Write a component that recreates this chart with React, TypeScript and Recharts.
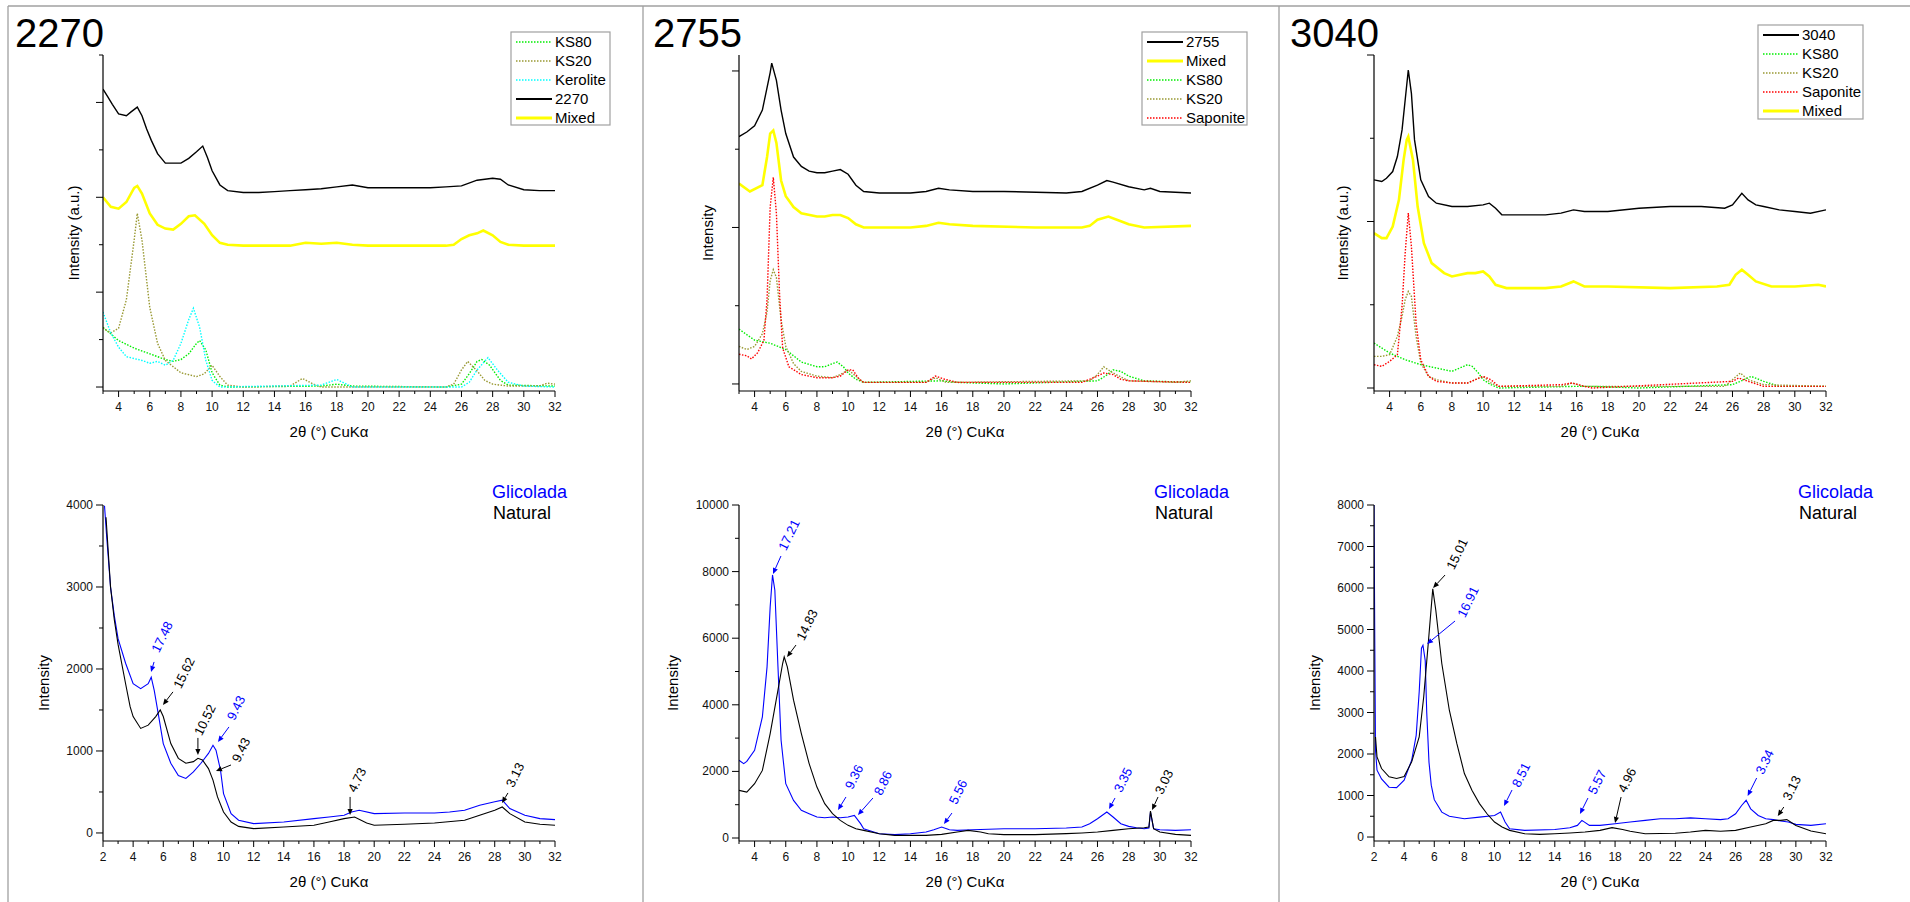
import React from 'react'
import { LineChart, Line, XAxis, YAxis, ReferenceDot } from 'recharts'

type Pt = [number, number]

// ---- top row: stacked patterns, arbitrary units ----
const tl2270: Pt[] = [[3,3.14],[3.3,3.06],[3.6,2.98],[4,2.88],[4.5,2.86],[4.8,2.9],[5.2,2.95],[5.5,2.86],[5.8,2.72],[6.1,2.6],[6.5,2.46],[7,2.36],[7.5,2.36],[8,2.36],[8.5,2.41],[9,2.48],[9.4,2.54],[9.7,2.42],[10,2.28],[10.5,2.13],[11,2.07],[12,2.05],[13,2.05],[14,2.06],[15,2.07],[16,2.08],[17,2.09],[18,2.11],[19,2.13],[20,2.1],[22,2.1],[24,2.1],[25,2.11],[26,2.12],[27,2.18],[28,2.2],[28.5,2.19],[29,2.13],[30,2.08],[31,2.07],[32,2.07]]
const tlMixed: Pt[] = [[3,2.0],[3.5,1.9],[4,1.88],[4.5,1.95],[5,2.1],[5.2,2.12],[5.5,2.04],[6,1.83],[6.5,1.71],[7,1.67],[7.5,1.66],[8,1.72],[8.5,1.8],[8.9,1.81],[9.5,1.72],[10,1.6],[10.5,1.52],[11,1.5],[12,1.49],[15,1.49],[16,1.52],[17,1.51],[18,1.52],[19,1.5],[20,1.49],[25,1.49],[25.5,1.5],[26,1.56],[26.5,1.6],[27,1.62],[27.4,1.65],[28,1.6],[28.5,1.53],[29,1.5],[30,1.49],[32,1.49]]
const tlKS20: Pt[] = [[3,0.62],[3.5,0.57],[4,0.62],[4.5,0.92],[5,1.55],[5.2,1.83],[5.5,1.55],[6,0.84],[6.5,0.46],[7,0.28],[8,0.15],[9,0.11],[9.5,0.14],[10,0.23],[10.5,0.11],[11,0.02],[12,0],[15,0.01],[15.8,0.09],[16.5,0.03],[17,0],[25,0],[25.5,0.03],[26,0.18],[26.4,0.27],[27,0.17],[27.5,0.07],[28,0.03],[29,0.01],[31,0.01],[31.5,0.04],[32,0.03]]
const tlKS80: Pt[] = [[3,0.63],[4,0.49],[5,0.41],[6,0.35],[7,0.29],[7.5,0.27],[8,0.29],[8.5,0.35],[9,0.46],[9.2,0.49],[9.6,0.39],[10,0.15],[10.5,0.02],[11,0],[17,0.01],[18,0.03],[19,0.01],[25,0],[26,0.03],[26.5,0.14],[27,0.27],[27.3,0.29],[27.8,0.23],[28.5,0.07],[29,0.02],[32,0.01]]
const tlKerolite: Pt[] = [[3,0.79],[3.5,0.57],[4,0.42],[4.5,0.32],[5,0.3],[5.5,0.28],[6,0.25],[6.5,0.27],[7,0.23],[7.5,0.28],[8,0.46],[8.5,0.71],[8.8,0.83],[9.2,0.63],[9.6,0.28],[10,0.07],[10.5,0],[17,0.02],[18,0.08],[18.5,0.04],[19,0],[26,0],[26.5,0.05],[27,0.18],[27.7,0.31],[28.3,0.18],[29,0.05],[30,0.01],[32,0]]

const tm2755: Pt[] = [[3,1.58],[3.5,1.61],[4,1.65],[4.5,1.75],[5,1.99],[5.1,2.05],[5.4,1.94],[5.7,1.75],[6,1.6],[6.5,1.45],[7,1.39],[7.5,1.36],[8,1.35],[8.5,1.35],[9,1.36],[9.5,1.37],[10,1.34],[10.5,1.27],[11,1.23],[12,1.22],[14,1.22],[15,1.23],[15.8,1.25],[16.5,1.24],[18,1.23],[20,1.23],[24,1.22],[25,1.23],[26,1.27],[26.6,1.3],[27,1.29],[28,1.26],[29,1.24],[29.4,1.25],[30,1.23],[32,1.22]]
const tmMixed: Pt[] = [[3,1.28],[3.7,1.23],[4.5,1.27],[4.8,1.45],[5,1.6],[5.2,1.62],[5.4,1.54],[5.7,1.3],[6,1.2],[6.5,1.13],[7,1.09],[8,1.07],[8.5,1.07],[9,1.08],[9.5,1.08],[10,1.06],[10.5,1.02],[11,1.0],[14,1.0],[15,1.01],[15.8,1.03],[16.5,1.02],[18,1.01],[22,1.0],[25,1.0],[25.5,1.01],[26,1.05],[26.7,1.07],[27.5,1.04],[28,1.02],[29,1.0],[32,1.01]]
const tmKS80: Pt[] = [[3,0.35],[4,0.28],[5,0.26],[6,0.22],[7,0.14],[8,0.11],[8.5,0.11],[9,0.13],[9.3,0.14],[9.7,0.11],[10,0.07],[10.5,0.03],[11,0.01],[16,0.02],[17,0.01],[20,0],[26,0.02],[26.5,0.05],[27,0.09],[27.5,0.08],[28,0.05],[29,0.02],[32,0.01]]
const tmKS20: Pt[] = [[3,0.24],[3.5,0.22],[4,0.24],[4.5,0.32],[4.8,0.46],[5,0.66],[5.2,0.73],[5.4,0.68],[5.7,0.41],[6,0.24],[6.5,0.13],[7,0.08],[8,0.05],[9,0.04],[9.5,0.06],[10,0.09],[10.5,0.05],[11,0.01],[15,0.01],[15.6,0.04],[16.3,0.01],[25.5,0.02],[26,0.06],[26.4,0.11],[27,0.07],[28,0.02],[31,0.01],[32,0.02]]
const tmSaponite: Pt[] = [[3,0.19],[3.5,0.18],[3.8,0.16],[4.2,0.2],[4.6,0.28],[4.8,0.54],[5,1.13],[5.2,1.32],[5.4,1.09],[5.6,0.58],[5.8,0.23],[6.2,0.11],[7,0.06],[8,0.04],[9,0.04],[9.5,0.05],[10,0.09],[10.3,0.09],[10.7,0.03],[11,0.01],[15,0.01],[15.6,0.05],[16.2,0.03],[17,0.01],[25,0.01],[26,0.05],[26.4,0.07],[27,0.06],[27.5,0.03],[28,0.02],[32,0.01]]

const tr3040: Pt[] = [[3,1.25],[3.5,1.24],[3.8,1.26],[4.2,1.3],[4.5,1.39],[4.8,1.55],[5,1.73],[5.2,1.91],[5.4,1.77],[5.6,1.49],[6,1.25],[6.5,1.15],[7,1.11],[8,1.09],[9,1.09],[10,1.1],[10.4,1.11],[10.8,1.08],[11.2,1.04],[12,1.04],[14,1.04],[15,1.05],[15.8,1.07],[16.5,1.06],[18,1.06],[20,1.08],[22,1.09],[24,1.09],[25.5,1.08],[26,1.1],[26.6,1.17],[27,1.13],[27.5,1.1],[28,1.09],[29,1.07],[30,1.06],[31,1.05],[32,1.07]]
const trMixed: Pt[] = [[3,0.93],[3.5,0.9],[3.8,0.9],[4.2,0.97],[4.6,1.13],[4.9,1.37],[5.1,1.49],[5.2,1.51],[5.5,1.37],[5.8,1.09],[6.2,0.87],[6.7,0.75],[7.5,0.69],[8,0.67],[9,0.69],[9.5,0.69],[10,0.7],[10.4,0.67],[10.8,0.62],[11.5,0.6],[14,0.6],[15,0.61],[15.8,0.64],[16.5,0.61],[18,0.61],[22,0.6],[25,0.61],[25.8,0.62],[26.2,0.68],[26.6,0.71],[27,0.68],[27.5,0.64],[28.5,0.61],[30,0.61],[31.5,0.62],[32,0.61]]
const trKS80: Pt[] = [[3,0.27],[4,0.21],[5,0.17],[6,0.14],[7,0.12],[8,0.1],[8.5,0.12],[9,0.14],[9.3,0.13],[9.7,0.09],[10,0.05],[10.5,0.02],[11,0],[16,0.01],[17,0.01],[20,0],[26,0.02],[26.5,0.04],[27.2,0.07],[28,0.04],[29,0.01],[32,0.01]]
const trKS20: Pt[] = [[3,0.19],[3.5,0.19],[4,0.2],[4.5,0.31],[4.8,0.43],[5,0.53],[5.2,0.58],[5.4,0.55],[5.7,0.31],[6,0.15],[6.5,0.07],[7,0.05],[8,0.03],[9,0.03],[10,0.07],[10.5,0.03],[11,0.01],[15,0.01],[15.7,0.03],[16.5,0.01],[25.5,0.01],[26,0.05],[26.5,0.09],[27,0.05],[28,0.02],[32,0.01]]
const trSaponite: Pt[] = [[3,0.14],[3.5,0.13],[4,0.16],[4.5,0.2],[4.8,0.49],[5,0.81],[5.2,1.05],[5.4,0.85],[5.7,0.39],[6,0.17],[6.5,0.07],[7,0.04],[8,0.03],[9,0.03],[9.5,0.05],[10,0.07],[10.5,0.05],[11,0.01],[15,0.02],[15.7,0.03],[16.5,0.01],[17,0],[26,0.04],[26.4,0.06],[27,0.04],[28,0.01],[32,0.01]]

// ---- bottom row: counts, glycolated (blue) vs natural (black) ----
const blGlic: Pt[] = [[2.1,3990],[2.25,3600],[2.5,3000],[2.75,2650],[3,2370],[3.5,2070],[4,1820],[4.5,1760],[5,1820],[5.2,1900],[5.4,1740],[5.7,1420],[6,1090],[6.5,850],[7,700],[7.5,665],[8,745],[8.5,850],[9,970],[9.3,1070],[9.5,1010],[9.8,765],[10,480],[10.5,236],[11,155],[12,114],[14,134],[16,175],[17,195],[18,216],[18.5,256],[19,277],[20,236],[22,244],[24,244],[25,256],[26,277],[27,338],[28,380],[28.5,400],[29,297],[30,216],[31,175],[32,163]]
const blNat: Pt[] = [[2.2,3850],[2.5,3000],[2.75,2600],[3,2300],[3.5,1820],[3.8,1540],[4,1420],[4.5,1275],[5,1315],[5.5,1420],[5.8,1500],[6,1420],[6.5,1090],[7,910],[7.5,850],[8,870],[8.3,910],[8.6,890],[9,785],[9.3,645],[9.6,440],[10,256],[10.5,134],[11,80],[12,53],[14,73],[16,94],[17,134],[18,175],[18.7,195],[19.5,122],[20,94],[22,106],[24,122],[26,155],[27,216],[28,277],[28.5,317],[29,236],[30,134],[31,106],[32,94]]

const bmGlic: Pt[] = [[3,2335],[3.3,2235],[3.5,2300],[4,2635],[4.5,3640],[4.8,5140],[5,6940],[5.15,7900],[5.3,7440],[5.5,5140],[5.7,2935],[6,1630],[6.5,1130],[7,830],[7.5,730],[8,630],[8.5,610],[9,630],[9.5,610],[10,630],[10.4,680],[10.8,430],[11,280],[12,130],[13,100],[14,130],[15,180],[15.5,250],[16,330],[16.5,250],[17,230],[18,250],[20,280],[22,280],[24,300],[25,330],[25.5,430],[26,580],[26.6,780],[27,630],[27.5,430],[28,350],[28.5,310],[29,280],[29.3,300],[29.4,780],[29.6,280],[30,250],[31,230],[32,250]]
const bmNat: Pt[] = [[3,1430],[3.5,1380],[4,1630],[4.5,2030],[5,3135],[5.5,4440],[5.8,5240],[5.9,5440],[6.1,5140],[6.5,4140],[7,3135],[7.5,2235],[8,1530],[8.5,1030],[9,730],[9.5,530],[10,380],[10.5,280],[11,230],[12,130],[13,80],[15,80],[16,110],[17,180],[17.7,230],[18.5,180],[19,130],[20,100],[22,100],[24,130],[25,150],[26,180],[27,230],[28,280],[29,310],[29.3,330],[29.4,810],[29.6,280],[30,180],[31,110],[32,80]]

const brGlic: Pt[] = [[2,8000],[2.05,4820],[2.1,2090],[2.2,1610],[2.5,1400],[3,1200],[3.5,1190],[4,1370],[4.5,1850],[4.8,2450],[5,3500],[5.15,4550],[5.25,4620],[5.4,4250],[5.5,3000],[5.65,1800],[5.8,1250],[6,900],[6.5,600],[7,500],[8,440],[9,480],[10,520],[10.4,600],[10.7,360],[11,200],[12,160],[14,180],[15,225],[15.5,280],[15.8,400],[16.3,280],[17,280],[18,320],[19,360],[20,400],[21,440],[22,440],[23,460],[24,440],[25,420],[25.5,440],[26,560],[26.4,760],[26.7,885],[27,680],[27.5,520],[28,440],[28.5,420],[29,385],[29.5,360],[30,305],[31,280],[32,320]]
const brNat: Pt[] = [[2.1,2410],[2.2,1930],[2.5,1650],[3,1450],[3.5,1410],[4,1460],[4.5,1810],[5,2410],[5.3,3380],[5.6,4660],[5.9,5980],[6.1,5470],[6.5,4180],[7,3055],[7.5,2250],[8,1530],[8.5,1125],[9,805],[9.5,560],[10,360],[10.5,240],[11,160],[12,80],[13,64],[14,80],[15,96],[16,120],[17,160],[17.8,225],[18.5,180],[19,140],[20,80],[22,90],[23,120],[24,160],[25,140],[26,160],[27,240],[28,320],[28.5,400],[29,400],[29.4,420],[30,280],[31,145],[32,80]]

// peak labels (d-spacings) anchored at the arrow tip, in data units
const blNotes = [
  { t: '17.48', glic: true, x: 5.19, y: 1964 },
  { t: '15.62', glic: false, x: 5.98, y: 1562 },
  { t: '10.52', glic: false, x: 8.3, y: 952 },
  { t: '9.43', glic: true, x: 9.63, y: 1110 },
  { t: '9.43', glic: false, x: 9.5, y: 756 },
  { t: '4.73', glic: false, x: 18.4, y: 220 },
  { t: '3.13', glic: false, x: 28.48, y: 366 },
]
const bmNotes = [
  { t: '17.21', glic: true, x: 5.18, y: 7928 },
  { t: '14.83', glic: false, x: 6.08, y: 5435 },
  { t: '9.36', glic: true, x: 9.35, y: 841 },
  { t: '8.86', glic: true, x: 10.63, y: 690 },
  { t: '5.56', glic: true, x: 16.15, y: 420 },
  { t: '3.35', glic: true, x: 26.74, y: 871 },
  { t: '3.03', glic: false, x: 29.5, y: 841 },
]
const brNotes = [
  { t: '15.01', glic: false, x: 5.92, y: 6000 },
  { t: '16.91', glic: true, x: 5.52, y: 4651 },
  { t: '8.51', glic: true, x: 10.63, y: 747 },
  { t: '5.57', glic: true, x: 15.67, y: 554 },
  { t: '4.96', glic: false, x: 18.0, y: 337 },
  { t: '3.34', glic: true, x: 26.8, y: 988 },
  { t: '3.13', glic: false, x: 28.8, y: 506 },
]
// pixel offsets of label centre and arrow tail from the tip: [tx, ty, ax, ay]
const blNoteOffsets = [[11,-35,3,-10],[21,-32,10,-13],[7,-35,0,-17],[18,-34,11,-15],[25,-21,15,-6],[7,-35,0,-18],[13,-28,6,-10]]
const bmNoteOffsets = [[16,-39,8,-18],[20,-32,9,-12],[16,-33,8,-13],[25,-32,15,-17],[14,-32,8,-11],[14,-29,6,-11],[12,-28,6,-13]]
const brNoteOffsets = [[24,-34,12,-13],[41,-42,28,-23],[17,-31,8,-16],[17,-32,8,-16],[12,-43,6,-26],[17,-34,9,-18],[14,-28,6,-9]]

// ticks
const ticks3to32 = [3,4,5,6,7,8,9,10,11,12,13,14,15,16,17,18,19,20,21,22,23,24,25,26,27,28,29,30,31,32]
const ticks2to32 = [2,3,4,5,6,7,8,9,10,11,12,13,14,15,16,17,18,19,20,21,22,23,24,25,26,27,28,29,30,31,32]
const tlYTicks = [0,0.5,1,1.5,2,2.5,3,3.5]
const tmYTicks = [0,0.5,1,1.5,2]
const trYTicks = [0,0.5,1,1.5,2]
const blYTicks = [0,500,1000,1500,2000,2500,3000,3500,4000]
const bmYTicks = [0,1000,2000,3000,4000,5000,6000,7000,8000,9000,10000]
const brYTicks = [0,500,1000,1500,2000,2500,3000,3500,4000,4500,5000,5500,6000,6500,7000,7500,8000]

const FONT = '"Liberation Sans", Arial, sans-serif'
const BLUE = '#0000ff'
const STY = {
  black: { stroke: '#000000', w: 1.4, dash: undefined as string | undefined },
  mixed: { stroke: '#ffff00', w: 2.6, dash: undefined as string | undefined },
  ks80: { stroke: '#00ee00', w: 1.4, dash: '1.5 1.5' },
  ks20: { stroke: '#999933', w: 1.4, dash: '1.5 1.5' },
  kerolite: { stroke: '#00ffff', w: 1.4, dash: '1.5 1.5' },
  saponite: { stroke: '#ff0000', w: 1.4, dash: '1.5 1.5' },
  glic: { stroke: BLUE, w: 1.1, dash: undefined as string | undefined },
  nat: { stroke: '#000000', w: 1.1, dash: undefined as string | undefined },
}
type Sty = typeof STY.black

const rows = (pts: Pt[]) => pts.map(([x, y]) => ({ x, y }))

const PLOT_W = 452
const PLOT_H = 336
const COLS = [103, 739, 1374]
const TOP_Y = 55
const BOT_Y = 505

function XTick(props: any) {
  const { x, y, payload } = props
  const v = payload.value
  const major = v % 2 === 0
  return (
    <g>
      <line x1={x} y1={y} x2={x} y2={y + (major ? 6 : 3)} stroke="#000" strokeWidth={1} />
      {major && (
        <text x={x} y={y + 20} textAnchor="middle" fontSize={12} fontFamily={FONT} fill="#111">{v}</text>
      )}
    </g>
  )
}

function makeYTick(majorStep: number, labels: boolean) {
  return (props: any) => {
    const { x, y, payload } = props
    const v = payload.value
    const major = Math.abs(v / majorStep - Math.round(v / majorStep)) < 1e-6
    return (
      <g>
        <line x1={x - (major ? 7 : 4)} y1={y} x2={x} y2={y} stroke="#000" strokeWidth={1} />
        {labels && major && (
          <text x={x - 10} y={y + 4} textAnchor="end" fontSize={12} fontFamily={FONT} fill="#111">{v}</text>
        )}
      </g>
    )
  }
}

function noteShape(label: string, color: string, off: number[]) {
  return (p: any) => {
    const { cx, cy } = p
    const [tx, ty, ax, ay] = off
    const sx = cx + ax, sy = cy + ay
    const len = Math.hypot(cx - sx, cy - sy) || 1
    const ux = (cx - sx) / len, uy = (cy - sy) / len
    const hl = 6, hw = 2.6
    const bx = cx - ux * hl, by = cy - uy * hl
    return (
      <g>
        <line x1={sx} y1={sy} x2={bx} y2={by} stroke={color} strokeWidth={1} />
        <polygon points={`${cx},${cy} ${bx - uy * hw},${by + ux * hw} ${bx + uy * hw},${by - ux * hw}`} fill={color} />
        <text transform={`translate(${cx + tx},${cy + ty}) rotate(-64)`} textAnchor="middle" dominantBaseline="central" fontSize={13} fontFamily={FONT} fill={color}>{label}</text>
      </g>
    )
  }
}

type Series = { key: string; data: Pt[]; sty: Sty }
type Note = { t: string; glic: boolean; x: number; y: number }

function Panel(props: {
  left: number; top: number; xDomain: number[]; xTicks: number[]
  yDomain: number[]; yTicks: number[]; yMajor: number; yLabels: boolean
  series: Series[]; notes?: Note[]; noteOffsets?: number[][]
}) {
  const { left, top, xDomain, xTicks, yDomain, yTicks, yMajor, yLabels, series, notes, noteOffsets } = props
  return (
    <div style={{ position: 'absolute', left: left - 60, top: top - 10 }}>
      <LineChart width={PLOT_W + 70} height={PLOT_H + 60} margin={{ top: 10, right: 10, bottom: 0, left: 0 }}>
        <XAxis type="number" dataKey="x" domain={xDomain} ticks={xTicks} interval={0} allowDataOverflow
          height={50} tickLine={false} tickSize={0} tickMargin={0} tick={(p: any) => <XTick {...p} />}
          axisLine={{ stroke: '#000', strokeWidth: 1.2 }} />
        <YAxis type="number" dataKey="y" domain={yDomain} ticks={yTicks} interval={0} allowDataOverflow
          width={60} tickLine={false} tickSize={0} tickMargin={0} tick={makeYTick(yMajor, yLabels)}
          axisLine={{ stroke: '#000', strokeWidth: 1.2 }} />
        {series.map((s) => (
          <Line key={s.key} data={rows(s.data)} dataKey="y" type="linear" dot={false} activeDot={false}
            stroke={s.sty.stroke} strokeWidth={s.sty.w} strokeDasharray={s.sty.dash}
            isAnimationActive={false} />
        ))}
        {(notes || []).map((n, i) => (
          <ReferenceDot key={`n${i}`} x={n.x} y={n.y} r={0}
            shape={noteShape(n.t, n.glic ? BLUE : '#000', (noteOffsets || [])[i])} />
        ))}
      </LineChart>
    </div>
  )
}

function Legend(props: { x: number; y: number; w: number; h: number; rowY: number; items: [string, Sty][] }) {
  const { x, y, w, h, rowY, items } = props
  return (
    <g>
      <rect x={x} y={y} width={w} height={h} fill="#fff" stroke="#a0a0a0" strokeWidth={1.2} />
      {items.map(([name, s], i) => {
        const cy = rowY + i * 19
        return (
          <g key={name}>
            <line x1={x + 5} y1={cy} x2={x + 41} y2={cy} stroke={s.stroke}
              strokeWidth={s.stroke === '#ffff00' ? 3 : s.dash ? 1.5 : 2} strokeDasharray={s.dash} />
            <text x={x + 44} y={cy + 5} fontSize={15} fontFamily={FONT} fill="#000">{name}</text>
          </g>
        )
      })}
    </g>
  )
}

export default function App() {
  const xTitle = '2θ (°) CuKα'
  return (
    <div style={{ position: 'absolute', left: 0, top: 0, width: 1910, height: 902, background: '#fff', overflow: 'hidden' }}>
      <Panel left={COLS[0]} top={TOP_Y} xDomain={[3, 32]} xTicks={ticks3to32} yDomain={[-0.042, 3.5]}
        yTicks={tlYTicks} yMajor={1} yLabels={false}
        series={[
          { key: 'ks80', data: tlKS80, sty: STY.ks80 },
          { key: 'ks20', data: tlKS20, sty: STY.ks20 },
          { key: 'ker', data: tlKerolite, sty: STY.kerolite },
          { key: 'mixed', data: tlMixed, sty: STY.mixed },
          { key: 's', data: tl2270, sty: STY.black },
        ]} />
      <Panel left={COLS[1]} top={TOP_Y} xDomain={[3, 32]} xTicks={ticks3to32} yDomain={[-0.045, 2.102]}
        yTicks={tmYTicks} yMajor={1} yLabels={false}
        series={[
          { key: 'ks80', data: tmKS80, sty: STY.ks80 },
          { key: 'ks20', data: tmKS20, sty: STY.ks20 },
          { key: 'sap', data: tmSaponite, sty: STY.saponite },
          { key: 'mixed', data: tmMixed, sty: STY.mixed },
          { key: 's', data: tm2755, sty: STY.black },
        ]} />
      <Panel left={COLS[2]} top={TOP_Y} xDomain={[3, 32]} xTicks={ticks3to32} yDomain={[-0.018, 2.0]}
        yTicks={trYTicks} yMajor={1} yLabels={false}
        series={[
          { key: 'ks80', data: trKS80, sty: STY.ks80 },
          { key: 'ks20', data: trKS20, sty: STY.ks20 },
          { key: 'sap', data: trSaponite, sty: STY.saponite },
          { key: 'mixed', data: trMixed, sty: STY.mixed },
          { key: 's', data: tr3040, sty: STY.black },
        ]} />
      <Panel left={COLS[0]} top={BOT_Y} xDomain={[2, 32]} xTicks={ticks2to32} yDomain={[-98, 4000]}
        yTicks={blYTicks} yMajor={1000} yLabels={true}
        series={[
          { key: 'g', data: blGlic, sty: STY.glic },
          { key: 'n', data: blNat, sty: STY.nat },
        ]} notes={blNotes} noteOffsets={blNoteOffsets} />
      <Panel left={COLS[1]} top={BOT_Y} xDomain={[3, 32]} xTicks={ticks3to32} yDomain={[-90, 10000]}
        yTicks={bmYTicks} yMajor={2000} yLabels={true}
        series={[
          { key: 'g', data: bmGlic, sty: STY.glic },
          { key: 'n', data: bmNat, sty: STY.nat },
        ]} notes={bmNotes} noteOffsets={bmNoteOffsets} />
      <Panel left={COLS[2]} top={BOT_Y} xDomain={[2, 32]} xTicks={ticks2to32} yDomain={[-96, 8000]}
        yTicks={brYTicks} yMajor={1000} yLabels={true}
        series={[
          { key: 'g', data: brGlic, sty: STY.glic },
          { key: 'n', data: brNat, sty: STY.nat },
        ]} notes={brNotes} noteOffsets={brNoteOffsets} />

      <svg width={1910} height={902} style={{ position: 'absolute', left: 0, top: 0, pointerEvents: 'none' }}>
        <g stroke="#a0a0a0" strokeWidth={1.3}>
          <line x1={8} y1={6} x2={1910} y2={6} />
          <line x1={8} y1={6} x2={8} y2={902} />
          <line x1={643} y1={6} x2={643} y2={902} />
          <line x1={1279} y1={6} x2={1279} y2={902} />
        </g>
        <g fontFamily={FONT} fill="#000">
          <text x={15} y={47} fontSize={40}>2270</text>
          <text x={653} y={47} fontSize={40}>2755</text>
          <text x={1290} y={47} fontSize={40}>3040</text>

          <text x={329} y={437} fontSize={15} textAnchor="middle">{xTitle}</text>
          <text x={965} y={437} fontSize={15} textAnchor="middle">{xTitle}</text>
          <text x={1600} y={437} fontSize={15} textAnchor="middle">{xTitle}</text>
          <text x={329} y={887} fontSize={15} textAnchor="middle">{xTitle}</text>
          <text x={965} y={887} fontSize={15} textAnchor="middle">{xTitle}</text>
          <text x={1600} y={887} fontSize={15} textAnchor="middle">{xTitle}</text>

          <text transform="translate(73,233) rotate(-90)" fontSize={15} textAnchor="middle" dominantBaseline="central">Intensity (a.u.)</text>
          <text transform="translate(707,233) rotate(-90)" fontSize={15} textAnchor="middle" dominantBaseline="central">Intensity</text>
          <text transform="translate(1342,233) rotate(-90)" fontSize={15} textAnchor="middle" dominantBaseline="central">Intensity (a.u.)</text>
          <text transform="translate(43,683) rotate(-90)" fontSize={15} textAnchor="middle" dominantBaseline="central">Intensity</text>
          <text transform="translate(672,683) rotate(-90)" fontSize={15} textAnchor="middle" dominantBaseline="central">Intensity</text>
          <text transform="translate(1314,683) rotate(-90)" fontSize={15} textAnchor="middle" dominantBaseline="central">Intensity</text>

          <text x={492} y={498} fontSize={18} fill={BLUE}>Glicolada</text>
          <text x={493} y={519} fontSize={18}>Natural</text>
          <text x={1154} y={498} fontSize={18} fill={BLUE}>Glicolada</text>
          <text x={1155} y={519} fontSize={18}>Natural</text>
          <text x={1798} y={498} fontSize={18} fill={BLUE}>Glicolada</text>
          <text x={1799} y={519} fontSize={18}>Natural</text>
        </g>
        <Legend x={511} y={32} w={99} h={93} rowY={42}
          items={[['KS80', STY.ks80], ['KS20', STY.ks20], ['Kerolite', STY.kerolite], ['2270', STY.black], ['Mixed', STY.mixed]]} />
        <Legend x={1142} y={32} w={105} h={93} rowY={42}
          items={[['2755', STY.black], ['Mixed', STY.mixed], ['KS80', STY.ks80], ['KS20', STY.ks20], ['Saponite', STY.saponite]]} />
        <Legend x={1758} y={25} w={105} h={94} rowY={35}
          items={[['3040', STY.black], ['KS80', STY.ks80], ['KS20', STY.ks20], ['Saponite', STY.saponite], ['Mixed', STY.mixed]]} />
      </svg>
    </div>
  )
}
